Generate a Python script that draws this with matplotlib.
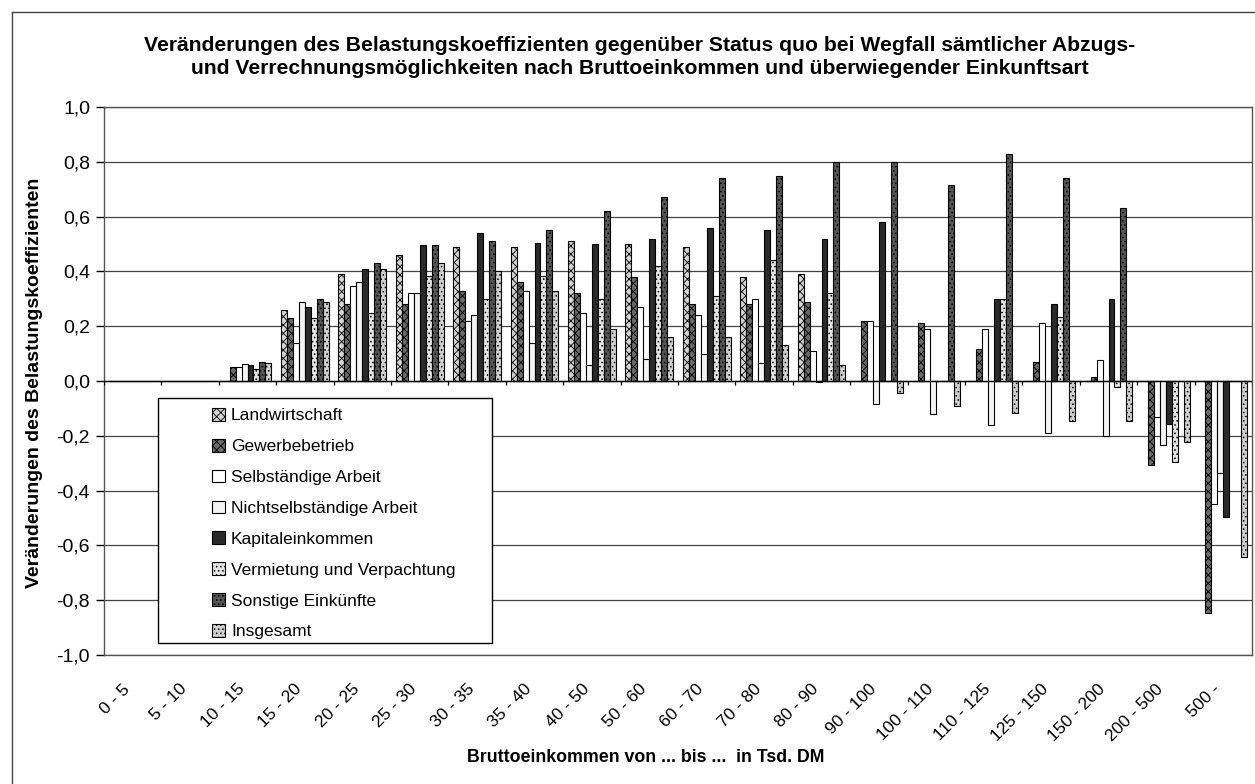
import matplotlib
matplotlib.use("Agg")
import matplotlib.pyplot as plt
from matplotlib.lines import Line2D
from matplotlib.patches import Rectangle
import numpy as np

plt.rcParams['font.family'] = ['Liberation Sans', 'DejaVu Sans']
plt.rcParams['hatch.linewidth'] = 0.6

# Einkommensklassen (Tsd. DM)
klassen = ["0 - 5", "5 - 10", "10 - 15", "15 - 20", "20 - 25", "25 - 30",
           "30 - 35", "35 - 40", "40 - 50", "50 - 60", "60 - 70", "70 - 80",
           "80 - 90", "90 - 100", "100 - 110", "110 - 125", "125 - 150",
           "150 - 200", "200 - 500", "500 -"]

# Veränderung des Belastungskoeffizienten je Einkunftsart
landwirtschaft = [0, 0, 0, 0.26, 0.39, 0.46, 0.49, 0.49, 0.51, 0.50,
                  0.49, 0.38, 0.39, 0, 0, 0, 0, 0, 0, 0]
gewerbebetrieb = [0, 0, 0.05, 0.23, 0.28, 0.28, 0.33, 0.36, 0.32, 0.38,
                  0.28, 0.28, 0.29, 0.22, 0.21, 0.115, 0.07, 0.015, -0.305, -0.846]
selbstaendig = [0, 0, 0.05, 0.14, 0.345, 0.32, 0.22, 0.33, 0.25, 0.27,
                0.24, 0.30, 0.11, 0.22, 0.19, 0.19, 0.21, 0.075, -0.133, -0.45]
nichtselbst = [0, 0, 0.063, 0.29, 0.36, 0.32, 0.24, 0.14, 0.06, 0.08,
               0.10, 0.067, -0.005, -0.085, -0.12, -0.16, -0.19, -0.20, -0.233, -0.337]
kapital = [0, 0, 0.057, 0.27, 0.41, 0.495, 0.54, 0.505, 0.50, 0.52,
           0.56, 0.55, 0.52, 0.58, 0, 0.30, 0.28, 0.30, -0.158, -0.497]
vermietung = [0, 0, 0.042, 0.23, 0.25, 0.385, 0.30, 0.385, 0.30, 0.42,
              0.31, 0.44, 0.32, 0, 0, 0.30, 0.235, -0.022, -0.297, 0]
sonstige = [0, 0, 0.069, 0.30, 0.43, 0.495, 0.51, 0.55, 0.62, 0.67,
            0.74, 0.75, 0.80, 0.80, 0.715, 0.83, 0.74, 0.63, 0, 0]
insgesamt = [0, 0, 0.067, 0.29, 0.41, 0.43, 0.40, 0.33, 0.19, 0.16,
             0.16, 0.13, 0.057, -0.042, -0.09, -0.115, -0.145, -0.145, -0.224, -0.642]

reihen = [
    ("Landwirtschaft", landwirtschaft, '#d4d4d4', 'xxxx'),
    ("Gewerbebetrieb", gewerbebetrieb, '#6a6a6a', 'xxxx'),
    ("Selbständige Arbeit", selbstaendig, 'white', None),
    ("Nichtselbständige Arbeit", nichtselbst, '#f4f4f4', None),
    ("Kapitaleinkommen", kapital, '#2a2a2a', None),
    ("Vermietung und Verpachtung", vermietung, '#e4e4e4', '....'),
    ("Sonstige Einkünfte", sonstige, '#555555', '....'),
    ("Insgesamt", insgesamt, '#cfcfcf', '....'),
]

W, H = 1255, 784
fig = plt.figure(figsize=(W / 100, H / 100), dpi=100)
ax = fig.add_axes([104 / W, 1 - 655 / H, 1148 / W, 548 / H])

x = np.arange(len(klassen))
breite = 0.104
for i, (name, werte, farbe, muster) in enumerate(reihen):
    ax.bar(x + (i - 3.5) * breite, werte, width=breite, color=farbe,
           edgecolor='black', linewidth=0.8, hatch=muster, label=name, zorder=3)

ax.set_xlim(-0.5, len(klassen) - 0.5)
ax.set_ylim(-1.0, 1.0)
yt = np.round(np.arange(-1.0, 1.01, 0.2), 1) + 0.0
ax.set_yticks(yt)
ax.set_yticklabels([f"{v:.1f}".replace('.', ',').replace('-0,0', '0,0') for v in yt], fontsize=14)
ax.tick_params(axis='y', direction='out', length=6, width=1, pad=4)
ax.grid(axis='y', color='#444444', linewidth=0.9, zorder=0)
ax.axhline(0, color='black', linewidth=1.0, zorder=4)
# Teilstriche zwischen den Klassen auf der Nulllinie
ax.vlines(np.arange(len(klassen) + 1) - 0.5, -0.015, 0, color='black', linewidth=0.9, zorder=4)

ax.set_xticks(x)
ax.set_xticklabels(klassen, rotation=45, ha='right', va='top', fontsize=12.5)
ax.tick_params(axis='x', length=0, pad=19)

for s in ax.spines.values():
    s.set_linestyle((0, (1, 1)))
    s.set_color('#555555')
    s.set_linewidth(1.0)

# Legende ohne eigenen Rahmen, Rahmen separat (breiter linker Rand wie im Original)
leg = fig.legend(*ax.get_legend_handles_labels(), loc='upper left',
                 bbox_to_anchor=(212 / W, 1 - 408 / H), borderaxespad=0, borderpad=0,
                 fontsize=12.5, handlelength=0.75, handleheight=0.75, handletextpad=0.35,
                 labelspacing=0.89, frameon=False)
leg.set_zorder(6)
fig.add_artist(Rectangle((158 / W, 1 - 643 / H), (492 - 158) / W, (643 - 398) / H,
                         transform=fig.transFigure, facecolor='white', edgecolor='black',
                         linewidth=1.0, zorder=5))

fig.text(0.51, 1 - 36 / H,
         "Veränderungen des Belastungskoeffizienten gegenüber Status quo bei Wegfall sämtlicher Abzugs-\n"
         "und Verrechnungsmöglichkeiten nach Bruttoeinkommen und überwiegender Einkunftsart",
         ha='center', va='top', fontsize=15.2, fontweight='bold', linespacing=1.3)
fig.text(35 / W, 1 - 383 / H, "Veränderungen des Belastungskoeffizienten",
         rotation=90, ha='center', va='center', fontsize=14, fontweight='bold')
fig.text(646 / W, 1 - 758 / H, "Bruttoeinkommen von ... bis ...  in Tsd. DM",
         ha='center', va='center', fontsize=12.8, fontweight='bold')

# Rahmen des Diagrammbereichs
fig.add_artist(Line2D([12 / W, 12 / W], [0, 1 - 12 / H], transform=fig.transFigure,
                      color='#444444', linewidth=1.0))
fig.add_artist(Line2D([12 / W, 1], [1 - 12 / H, 1 - 12 / H], transform=fig.transFigure,
                      color='#444444', linewidth=1.0))

fig.savefig("out.png", dpi=100)
